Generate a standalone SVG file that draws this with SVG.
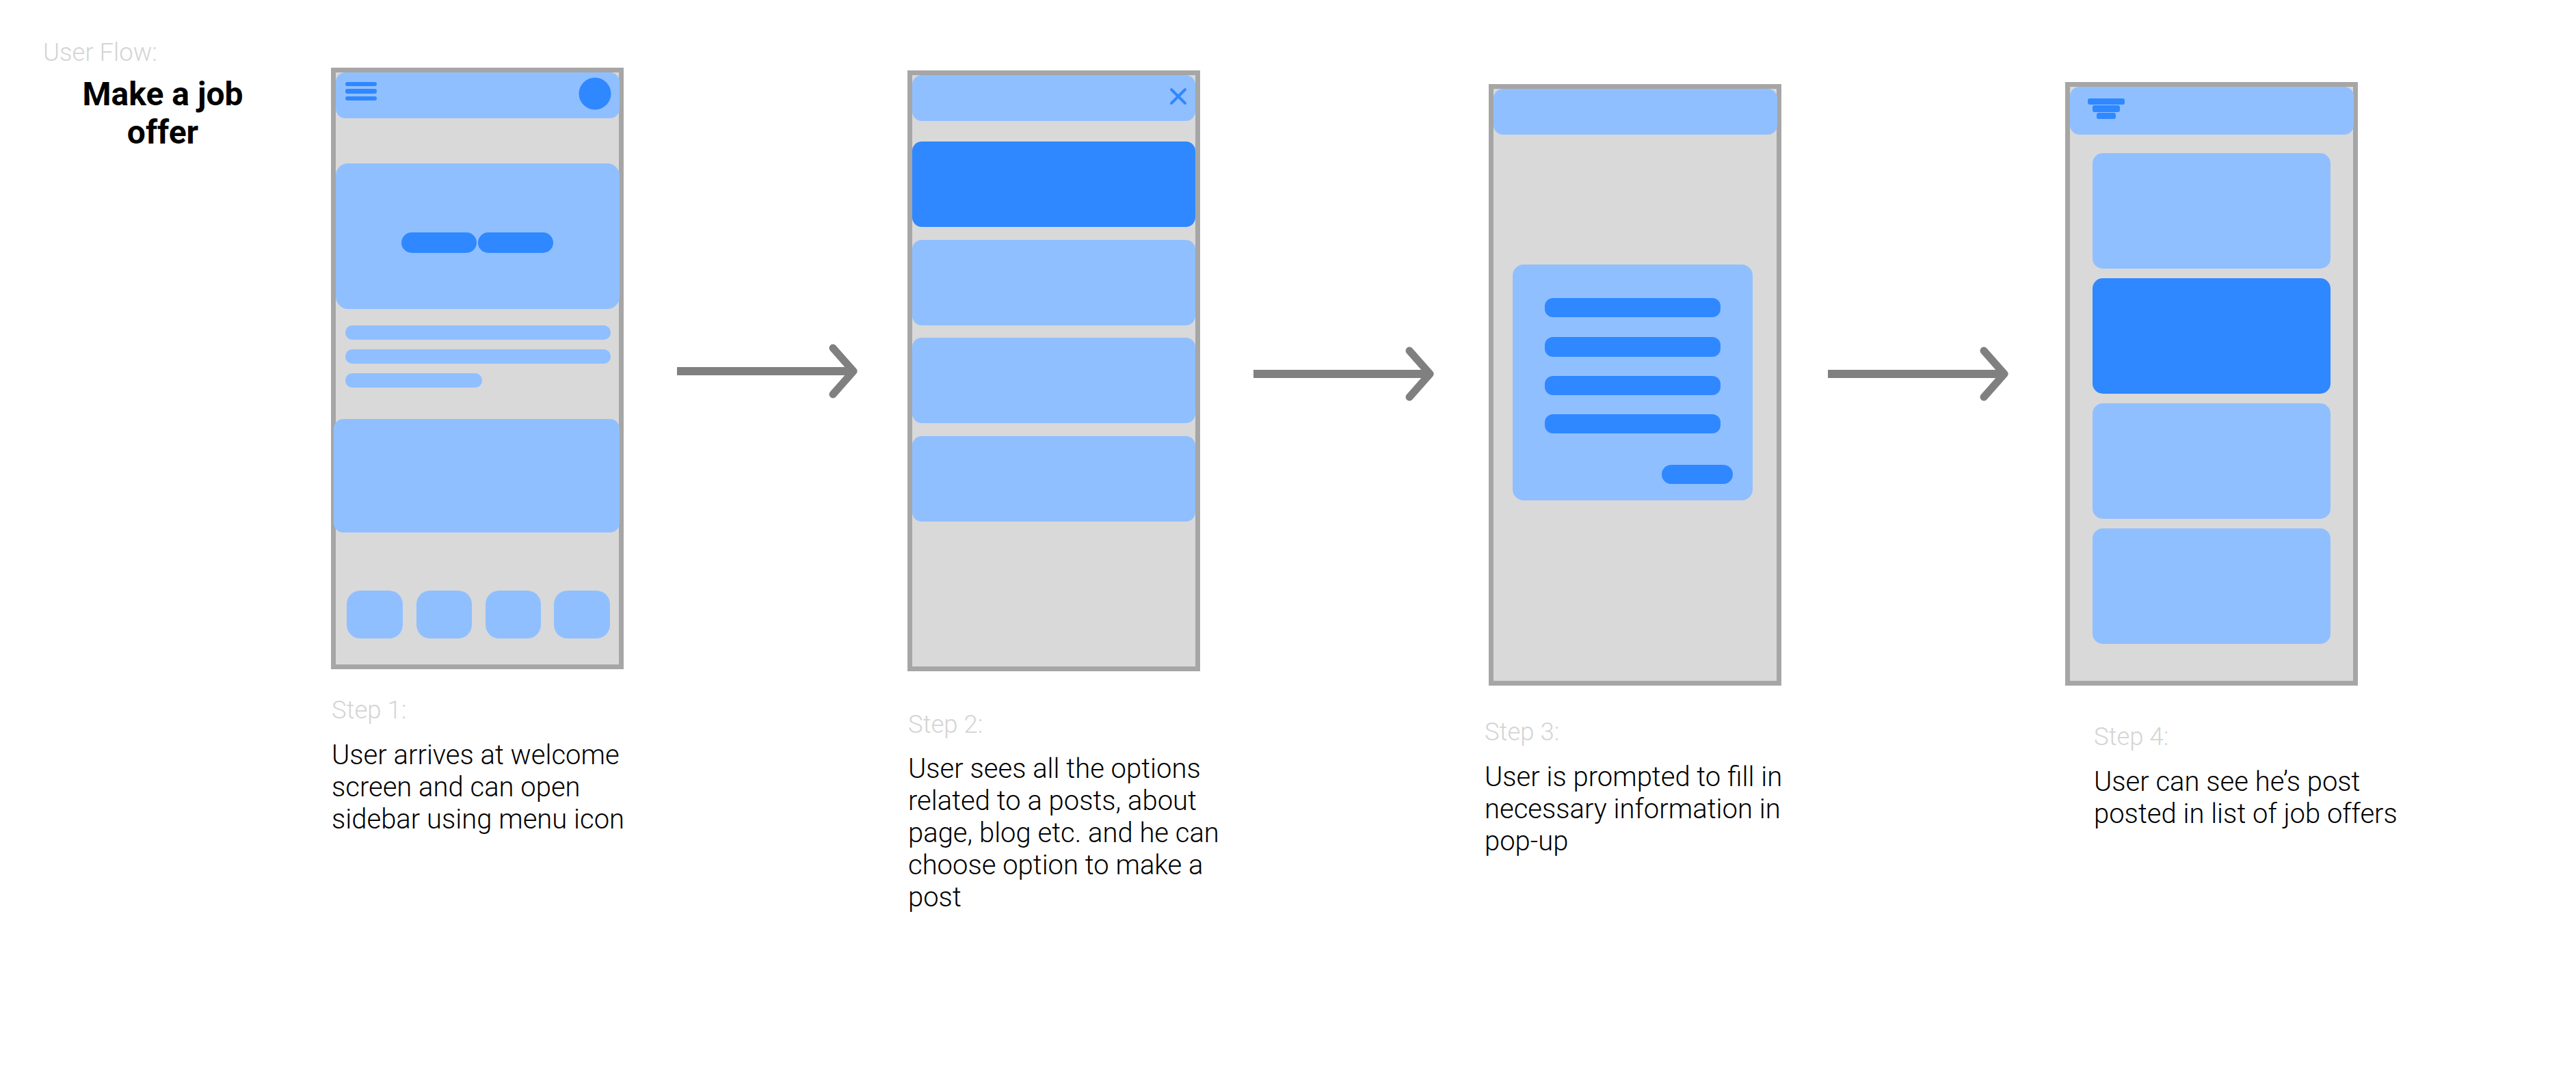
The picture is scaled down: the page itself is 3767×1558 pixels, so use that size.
<svg xmlns="http://www.w3.org/2000/svg" width="3767" height="1558" viewBox="0 0 3767 1558">
<style>
text{font-family:Roboto,"Liberation Sans",sans-serif}
.t{font-size:40px;font-weight:300;fill:#000}
.s{font-size:36.500px;font-weight:300;fill:#d4d4d4}
.h{font-size:48px;font-weight:700;fill:#000;text-anchor:middle}
.f{fill:#d9d9d9;stroke:#a6a6a6;stroke-width:7}
.l{fill:#90bfff}
.d{fill:#2f88ff}
.a{fill:none;stroke:#808080;stroke-width:12}
.c{fill:none;stroke:#808080;stroke-width:11;stroke-linecap:round;stroke-linejoin:round}
.x{fill:none;stroke:#2f88ff;stroke-width:4;stroke-linecap:round}
</style>
<rect width="3767" height="1558" fill="#fff"/>
<g id="title">
<text class="s" x="63" y="89">User Flow:</text>
<text class="h" x="238" y="154">Make a job</text>
<text class="h" x="238" y="210">offer</text>
</g>
<g id="step1">
<rect class="f" x="487.500" y="102.500" width="421" height="873"/>
<rect class="l" x="491" y="106" width="415" height="67" rx="14"/>
<rect class="d" x="505" y="120" width="46" height="6" rx="3"/>
<rect class="d" x="505" y="130" width="46" height="7" rx="3"/>
<rect class="d" x="505" y="141" width="46" height="6" rx="3"/>
<circle class="d" cx="870" cy="137" r="23.500"/>
<rect class="l" x="491" y="239" width="415" height="213" rx="18"/>
<rect class="d" x="587" y="340" width="110" height="30" rx="15"/>
<rect class="d" x="699" y="340" width="110" height="30" rx="15"/>
<rect class="l" x="505" y="476" width="388" height="21" rx="10"/>
<rect class="l" x="505" y="511" width="388" height="21" rx="10"/>
<rect class="l" x="505" y="546" width="200" height="21" rx="10"/>
<rect class="l" x="488" y="613" width="418" height="166" rx="14"/>
<rect class="l" x="507" y="864" width="82" height="70" rx="20"/>
<rect class="l" x="609" y="864" width="81" height="70" rx="20"/>
<rect class="l" x="710" y="864" width="81" height="70" rx="20"/>
<rect class="l" x="810" y="864" width="82" height="70" rx="20"/>
<text class="s" x="485" y="1051">Step 1:</text>
<text class="t" x="485" y="1118">User arrives at welcome</text>
<text class="t" x="485" y="1165">screen and can open</text>
<text class="t" x="485" y="1212">sidebar using menu icon</text>
</g>
<g id="step2">
<rect class="f" x="1330.500" y="106.500" width="421" height="872"/>
<rect class="l" x="1334" y="110" width="414" height="67" rx="14"/>
<path class="x" d="M1713 131L1733 151M1733 131L1713 151"/>
<rect class="d" x="1334" y="207" width="414" height="125" rx="14"/>
<rect class="l" x="1334" y="351" width="414" height="125" rx="14"/>
<rect class="l" x="1334" y="494" width="414" height="125" rx="14"/>
<rect class="l" x="1334" y="638" width="414" height="125" rx="14"/>
<text class="s" x="1328" y="1072">Step 2:</text>
<text class="t" x="1328" y="1138">User sees all the options</text>
<text class="t" x="1328" y="1185">related to a posts, about</text>
<text class="t" x="1328" y="1232">page, blog etc. and he can</text>
<text class="t" x="1328" y="1279">choose option to make a</text>
<text class="t" x="1328" y="1326">post</text>
</g>
<g id="step3">
<rect class="f" x="2180.500" y="126.500" width="421" height="873"/>
<rect class="l" x="2184" y="130" width="415" height="67" rx="14"/>
<rect class="l" x="2212" y="387" width="351" height="345" rx="16"/>
<rect class="d" x="2259" y="436" width="257" height="28" rx="12"/>
<rect class="d" x="2259" y="493" width="257" height="29" rx="12"/>
<rect class="d" x="2259" y="550" width="257" height="28" rx="12"/>
<rect class="d" x="2259" y="606" width="257" height="28" rx="12"/>
<rect class="d" x="2430" y="680" width="104" height="28" rx="14"/>
<text class="s" x="2171" y="1083">Step 3:</text>
<text class="t" x="2171" y="1150">User is prompted to fill in</text>
<text class="t" x="2171" y="1197">necessary information in</text>
<text class="t" x="2171" y="1244">pop-up</text>
</g>
<g id="step4">
<rect class="f" x="3023.500" y="123.500" width="421" height="876"/>
<rect class="l" x="3027" y="127" width="415" height="70" rx="14"/>
<rect class="d" x="3053" y="144" width="54" height="9" rx="3"/>
<rect class="d" x="3060" y="154" width="40" height="10" rx="3"/>
<rect class="d" x="3066" y="165" width="28" height="9" rx="3"/>
<rect class="l" x="3060" y="224" width="348" height="169" rx="15"/>
<rect class="d" x="3060" y="407" width="348" height="169" rx="15"/>
<rect class="l" x="3060" y="590" width="348" height="169" rx="15"/>
<rect class="l" x="3060" y="773" width="348" height="169" rx="15"/>
<text class="s" x="3062" y="1090">Step 4:</text>
<text class="t" x="3062" y="1157">User can see he’s post</text>
<text class="t" x="3062" y="1204">posted in list of job offers</text>
</g>
<g id="connectors">
<path class="a" d="M990 543H1246"/>
<path class="c" d="M1218 509L1248 543L1218 577"/>
<path class="a" d="M1833 547H2089"/>
<path class="c" d="M2061 513L2091 547L2061 581"/>
<path class="a" d="M2673 547H2929"/>
<path class="c" d="M2901 513L2931 547L2901 581"/>
</g>
</svg>
